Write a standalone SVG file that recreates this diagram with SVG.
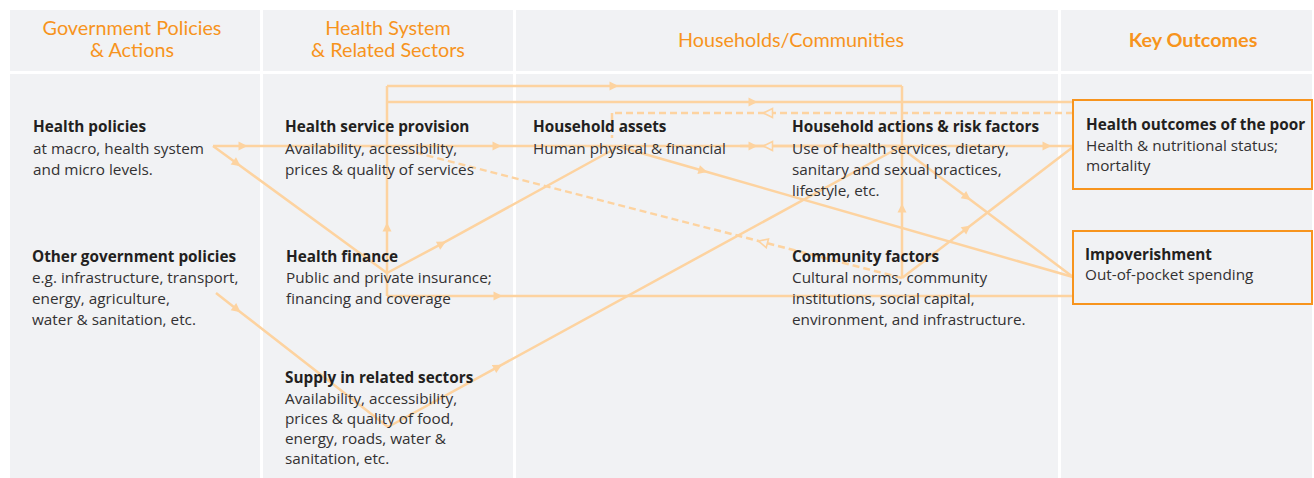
<svg xmlns="http://www.w3.org/2000/svg" width="1314" height="478" viewBox="0 0 1314 478">
<style>
.bg{fill:#f1f2f4}
.hd{font-family:Lato,"Open Sans",sans-serif;font-size:19.8px;fill:#f7941d;text-anchor:middle}
.hdb{font-weight:bold}
.t{font-family:"Open Sans",Lato,sans-serif;font-size:15.3px;fill:#333132}
.b{font-weight:bold;fill:#231f20}
.c{fill:none;stroke:#fdd3a0;stroke-width:2.5;stroke-linejoin:round}
.d{fill:none;stroke:#fdd3a0;stroke-width:2.5;stroke-dasharray:7 4}
.box{fill:#f1f2f4;stroke:#f7941d;stroke-width:2}
</style>
<defs>
<marker id="af" viewBox="0 0 10 10" refX="5" refY="5" markerWidth="10" markerHeight="10" markerUnits="userSpaceOnUse" orient="auto">
<path d="M0.5,0.5 L9.5,5 L0.5,9.5 z" fill="#fdd3a0"/>
</marker>
<marker id="ao" viewBox="0 0 12 12" refX="6" refY="6" markerWidth="12" markerHeight="12" markerUnits="userSpaceOnUse" orient="auto">
<path d="M1.5,1.5 L10.5,6 L1.5,10.5 z" fill="#f1f2f4" stroke="#fdd3a0" stroke-width="1.6"/>
</marker>
</defs>
<rect width="1314" height="478" fill="#ffffff"/>
<g id="panels">
<rect class="bg" x="10" y="10" width="250" height="61"/>
<rect class="bg" x="263" y="10" width="250" height="61"/>
<rect class="bg" x="516" y="10" width="542" height="61"/>
<rect class="bg" x="1061" y="10" width="251" height="61"/>
<rect class="bg" x="10" y="74" width="250" height="404"/>
<rect class="bg" x="263" y="74" width="250" height="404"/>
<rect class="bg" x="516" y="74" width="542" height="404"/>
<rect class="bg" x="1061" y="74" width="251" height="404"/>
</g>
<g id="headers">
<text class="hd" x="132" y="35">Government Policies</text>
<text class="hd" x="132" y="57">&amp; Actions</text>
<text class="hd" x="388" y="35">Health System</text>
<text class="hd" x="388" y="57">&amp; Related Sectors</text>
<text class="hd" x="791" y="47">Households/Communities</text>
<text class="hd hdb" x="1193" y="47">Key Outcomes</text>
</g>
<g id="connectors">
<path class="c" marker-mid="url(#af)" d="M213,146 L243,146 L497,146 L753,146 L1047,146 L1073,146"/>
<path class="c" marker-mid="url(#ao)" d="M900,146 L768,146 L740,146"/>
<path class="c" marker-mid="url(#af)" d="M213,146 L237,163.5 L387,273"/>
<path class="c" marker-mid="url(#af)" d="M216,293 L237,309.4 L388,427"/>
<path class="c" marker-mid="url(#af)" d="M387,296 L387,227 L387,86"/>
<path class="c" marker-mid="url(#af)" d="M387,86 L614,86 L902,86"/>
<path class="c" marker-mid="url(#af)" d="M902,278 L902,208 L902,86"/>
<path class="c" marker-mid="url(#af)" d="M387,102 L753,102 L1073,102"/>
<path class="c" marker-mid="url(#af)" d="M387,296 L498,296 L1073,296"/>
<path class="c" marker-mid="url(#af)" d="M387,273 L442,243.6 L616,148"/>
<path class="c" marker-mid="url(#af)" d="M388,427 L498,366.8 L900,147"/>
<path class="c" marker-mid="url(#af)" d="M620,147 L703,170.8 L1073,277"/>
<path class="c" marker-mid="url(#af)" d="M900,147 L967,197.3 L1073,277"/>
<path class="c" marker-mid="url(#af)" d="M902,278 L967,228.2 L1073,147"/>
<path class="d" marker-mid="url(#ao)" d="M1073,113 L768,113 L612,113"/>
<path class="d" d="M612,113 L612,138"/>
<path class="d" marker-mid="url(#ao)" d="M902,278 L763,242.2 L402,149"/>
</g>
<g id="health-policies">
<text class="t"><tspan class="b" x="33" y="132">Health policies</tspan><tspan x="33" y="154">at macro, health system</tspan><tspan x="33" y="175">and micro levels.</tspan></text>
</g>
<g id="other-government-policies">
<text class="t"><tspan class="b" x="32" y="262">Other government policies</tspan><tspan x="32" y="283">e.g. infrastructure, transport,</tspan><tspan x="32" y="304">energy, agriculture,</tspan><tspan x="32" y="325">water &amp; sanitation, etc.</tspan></text>
</g>
<g id="health-service-provision">
<text class="t"><tspan class="b" x="285" y="132">Health service provision</tspan><tspan x="285" y="154">Availability, accessibility,</tspan><tspan x="285" y="175">prices &amp; quality of services</tspan></text>
</g>
<g id="health-finance">
<text class="t"><tspan class="b" x="286" y="262">Health finance</tspan><tspan x="286" y="283">Public and private insurance;</tspan><tspan x="286" y="304">financing and coverage</tspan></text>
</g>
<g id="supply-related-sectors">
<text class="t"><tspan class="b" x="285" y="383">Supply in related sectors</tspan><tspan x="285" y="404">Availability, accessibility,</tspan><tspan x="285" y="424">prices &amp; quality of food,</tspan><tspan x="285" y="444">energy, roads, water &amp;</tspan><tspan x="285" y="464">sanitation, etc.</tspan></text>
</g>
<g id="household-assets">
<text class="t"><tspan class="b" x="533" y="132">Household assets</tspan><tspan x="533" y="154">Human physical &amp; financial</tspan></text>
</g>
<g id="household-actions">
<text class="t"><tspan class="b" x="792" y="132">Household actions &amp; risk factors</tspan><tspan x="792" y="154">Use of health services, dietary,</tspan><tspan x="792" y="175">sanitary and sexual practices,</tspan><tspan x="792" y="196">lifestyle, etc.</tspan></text>
</g>
<g id="community-factors">
<text class="t"><tspan class="b" x="792" y="262">Community factors</tspan><tspan x="792" y="283">Cultural norms, community</tspan><tspan x="792" y="304">institutions, social capital,</tspan><tspan x="792" y="325">environment, and infrastructure.</tspan></text>
</g>
<g id="health-outcomes">
<rect class="box" x="1073" y="100" width="239" height="89"/>
<text class="t"><tspan class="b" x="1086" y="130">Health outcomes of the poor</tspan><tspan x="1086" y="151">Health &amp; nutritional status;</tspan><tspan x="1086" y="171">mortality</tspan></text>
</g>
<g id="impoverishment">
<rect class="box" x="1073" y="231" width="239" height="73"/>
<text class="t"><tspan class="b" x="1085" y="260">Impoverishment</tspan><tspan x="1085" y="280">Out-of-pocket spending</tspan></text>
</g>
</svg>
